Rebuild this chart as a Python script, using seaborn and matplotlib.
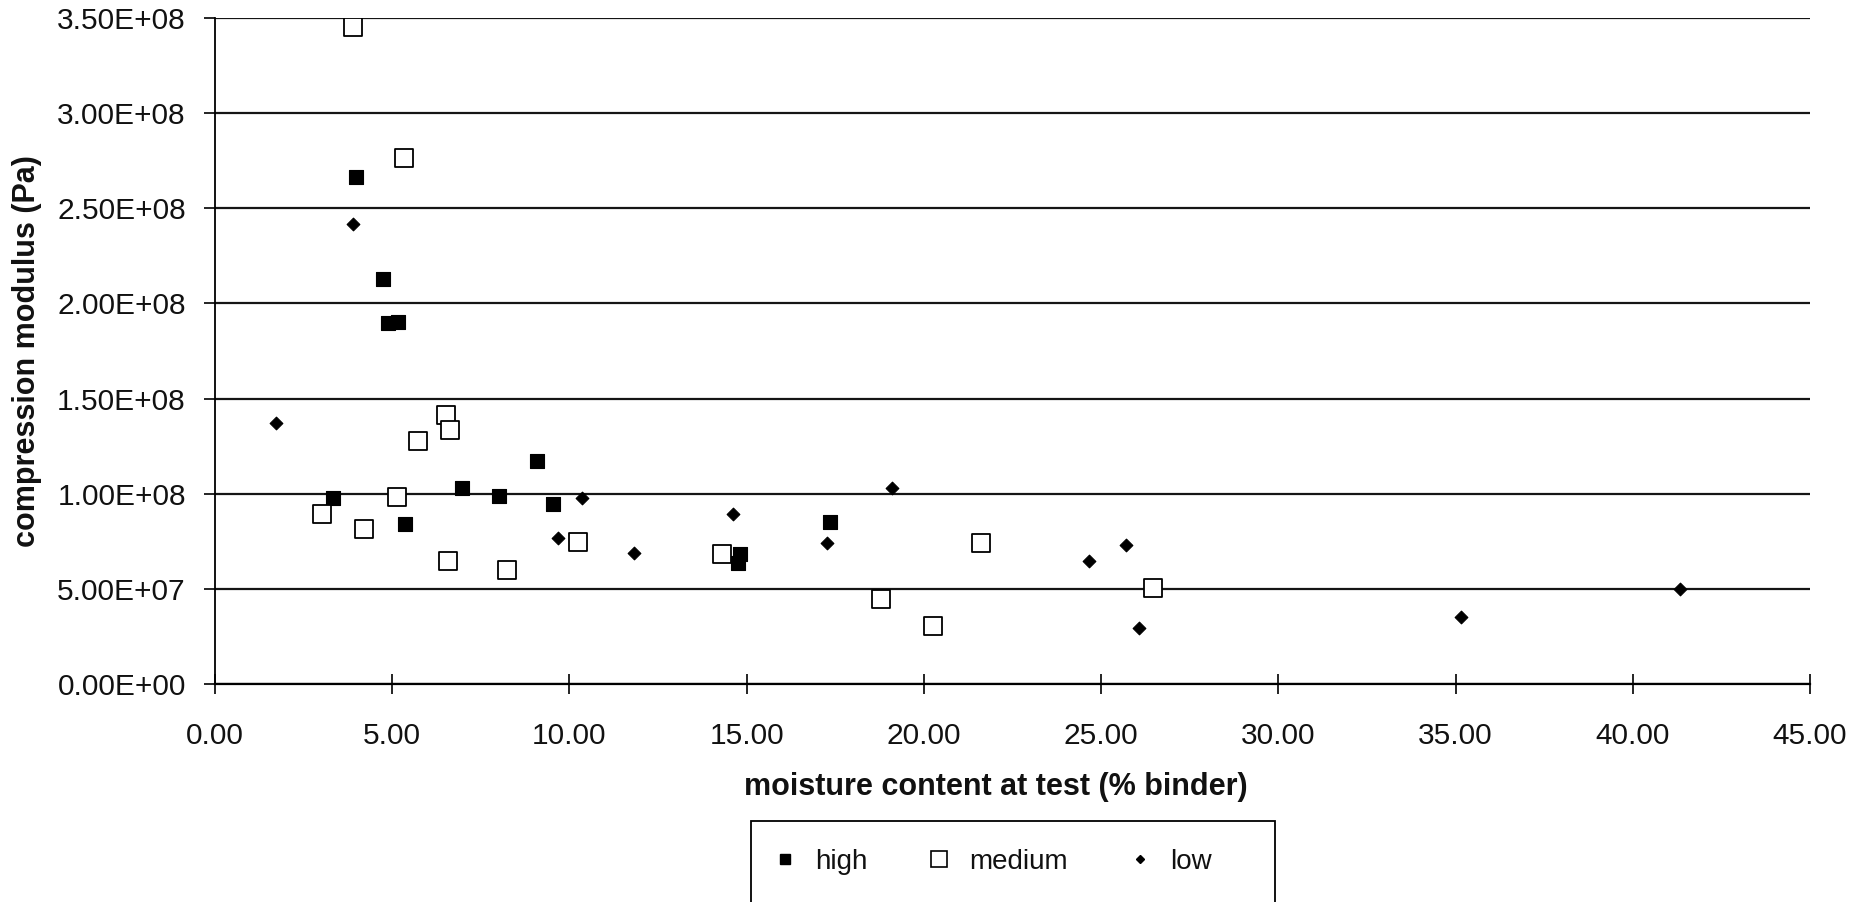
import matplotlib
matplotlib.use("Agg")
import matplotlib.pyplot as plt
from matplotlib.lines import Line2D
from matplotlib.patches import Rectangle
from matplotlib.ticker import FuncFormatter, FixedLocator
import pandas as pd
import seaborn as sns

# ---------------- data ----------------
high_x = [3.33, 3.99, 4.74, 4.87, 5.16, 5.37, 6.97, 8.01, 9.08, 9.55, 14.75, 14.81, 17.36]
high_y = [0.977e8, 2.666e8, 2.131e8, 1.898e8, 1.903e8, 0.840e8, 1.032e8, 0.988e8,
          1.172e8, 0.946e8, 0.637e8, 0.683e8, 0.851e8]

medium_x = [3.02, 3.90, 4.21, 5.14, 5.32, 5.72, 6.53, 6.57, 6.63, 8.24, 10.24,
            14.29, 18.78, 20.26, 21.61, 26.46]
medium_y = [0.893e8, 3.451e8, 0.812e8, 0.984e8, 2.763e8, 1.277e8, 1.412e8, 0.646e8,
            1.333e8, 0.598e8, 0.746e8, 0.681e8, 0.445e8, 0.306e8, 0.743e8, 0.503e8]

low_x = [1.71, 3.90, 9.67, 10.36, 11.82, 14.62, 17.28, 19.09, 24.67, 25.69, 26.06, 35.14, 41.34]
low_y = [1.374e8, 2.416e8, 0.765e8, 0.975e8, 0.688e8, 0.891e8, 0.739e8, 1.031e8,
         0.646e8, 0.732e8, 0.296e8, 0.354e8, 0.500e8]

series_names = ["high", "medium", "low"]
x_ticks = [0, 5, 10, 15, 20, 25, 30, 35, 40, 45]
y_ticks = [0, 5e7, 1e8, 1.5e8, 2e8, 2.5e8, 3e8, 3.5e8]
x_label = "moisture content at test (% binder)"
y_label = "compression modulus (Pa)"

df = pd.concat([
    pd.DataFrame({"x": high_x, "y": high_y, "grade": "high"}),
    pd.DataFrame({"x": medium_x, "y": medium_y, "grade": "medium"}),
    pd.DataFrame({"x": low_x, "y": low_y, "grade": "low"}),
], ignore_index=True)

# ---------------- style ----------------
sns.set_style("white")
plt.rcParams["font.family"] = ["Liberation Sans", "DejaVu Sans"]

W, H = 1867, 902
fig = plt.figure(figsize=(W / 100, H / 100), dpi=100)
left, right, top, bottom = 215, 1810, 18, 684
ax = fig.add_axes([left / W, 1 - bottom / H, (right - left) / W, (bottom - top) / H])

styles = {
    "high": dict(marker="s", s=105, color="black", edgecolor="black", linewidth=0.8),
    "medium": dict(marker="s", s=155, color="white", edgecolor="black", linewidth=1.3),
    "low": dict(marker="D", s=42, color="black", edgecolor="black", linewidth=0.8),
}
for name in series_names:
    sub = df[df["grade"] == name]
    sns.scatterplot(data=sub, x="x", y="y", ax=ax, legend=False, zorder=3, **styles[name])

ax.set_xlim(0, 45)
ax.set_ylim(0, 3.5e8)
ax.xaxis.set_major_locator(FixedLocator(x_ticks))
ax.yaxis.set_major_locator(FixedLocator(y_ticks))
ax.xaxis.set_major_formatter(FuncFormatter(lambda v, p: f"{v:.2f}"))
ax.yaxis.set_major_formatter(FuncFormatter(lambda v, p: f"{v:.2E}"))

ax.set_axisbelow(True)
ax.grid(axis="y", color="#151515", linewidth=1.6)
ax.grid(axis="x", visible=False)

for s in ["top", "right"]:
    ax.spines[s].set_visible(False)
ax.spines["left"].set_color("black")
ax.spines["left"].set_linewidth(1.3)
ax.spines["bottom"].set_color("black")
ax.spines["bottom"].set_linewidth(1.6)

ax.tick_params(axis="y", direction="out", length=8, width=1.2, color="black",
               labelsize=21.5, pad=13, left=True)
ax.tick_params(axis="x", direction="inout", length=14, width=1.2, color="black",
               labelsize=21.5, pad=20, bottom=True)
for lab in ax.get_xticklabels() + ax.get_yticklabels():
    lab.set_color("#111111")

ax.set_xlabel(x_label, fontsize=22, fontweight="bold", color="#111111")
ax.set_ylabel(y_label, fontsize=22, fontweight="bold", color="#111111")
ax.xaxis.set_label_coords((996 - left) / (right - left), -(772 - bottom) / (bottom - top))
ax.yaxis.set_label_coords(-(left - 42) / (right - left), 0.5)

# legend: entries placed without frame, frame drawn as the reference's box
handles = [
    Line2D([], [], linestyle="none", marker="s", markersize=7.5, markerfacecolor="black",
           markeredgecolor="black", label="high"),
    Line2D([], [], linestyle="none", marker="s", markersize=11, markerfacecolor="white",
           markeredgecolor="black", markeredgewidth=1.2, label="medium"),
    Line2D([], [], linestyle="none", marker="D", markersize=4.5, markerfacecolor="black",
           markeredgecolor="black", label="low"),
]
leg = fig.legend(handles=handles, ncol=3, loc="center left",
                 bbox_to_anchor=(771 / W, 1 - 862 / H),
                 bbox_transform=fig.transFigure, borderaxespad=0, borderpad=0,
                 fontsize=20, frameon=False, handlelength=1.0, handletextpad=0.58,
                 columnspacing=2.1)
for t in leg.get_texts():
    t.set_color("#111111")
frame = Rectangle((751 / W, -0.02), (1275 - 751) / W, (1 - 821 / H) + 0.02,
                  transform=fig.transFigure, fill=False, edgecolor="black",
                  linewidth=1.3, clip_on=False)
fig.add_artist(frame)

fig.savefig("out.png", dpi=100)
